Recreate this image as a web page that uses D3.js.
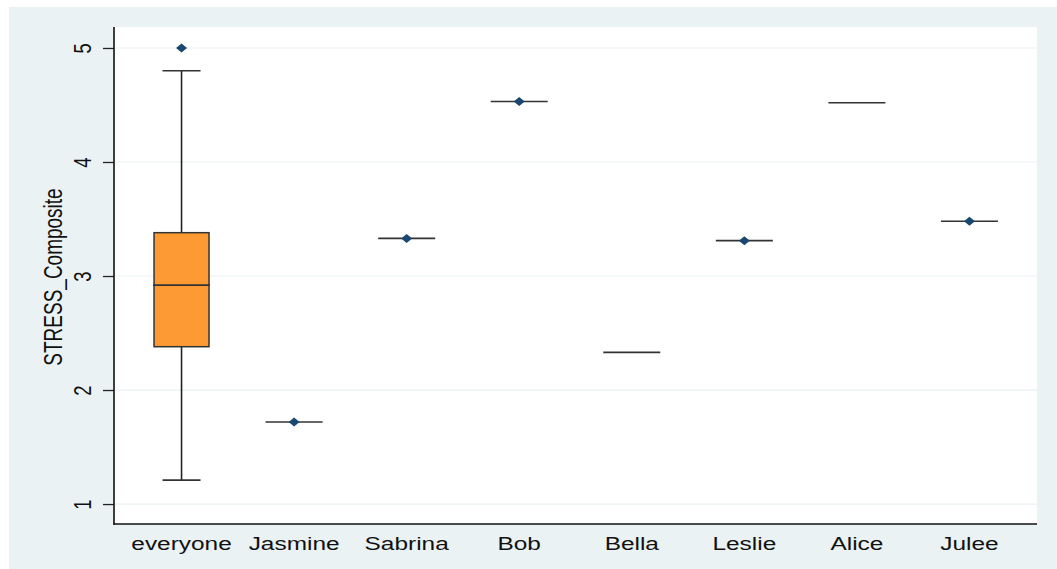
<!DOCTYPE html>
<html>
<head>
<meta charset="utf-8">
<script src="https://cdn.jsdelivr.net/npm/d3@7"></script>
<style>
  html, body { margin: 0; padding: 0; background: #ffffff; }
  svg { display: block; }
  text { font-family: "Liberation Sans", Arial, sans-serif; fill: #111; }
</style>
</head>
<body>
<svg id="chart" width="1057" height="569"></svg>
<script>
// ---- data ----
const categories = ["everyone", "Jasmine", "Sabrina", "Bob", "Bella", "Leslie", "Alice", "Julee"];
const lowerWhisker = [1.21, 1.72, 3.33, 4.53, 2.33, 3.31, 4.52, 3.48];
const q1           = [2.38, 1.72, 3.33, 4.53, 2.33, 3.31, 4.52, 3.48];
const median       = [2.92, 1.72, 3.33, 4.53, 2.33, 3.31, 4.52, 3.48];
const q3           = [3.38, 1.72, 3.33, 4.53, 2.33, 3.31, 4.52, 3.48];
const upperWhisker = [4.80, 1.72, 3.33, 4.53, 2.33, 3.31, 4.52, 3.48];
const outlierCats  = ["everyone", "Jasmine", "Sabrina", "Bob", "Leslie", "Julee"];
const outlierVals  = [5.00, 1.72, 3.33, 4.53, 3.31, 3.48];
const yTicks = [1, 2, 3, 4, 5];
const yTitle = "STRESS_Composite";

// ---- layout ----
const W = 1057, H = 569;
const plot = { left: 114, right: 1037, top: 27, bottom: 524 };
const sx = 1.32; // horizontal stretch of text in reference

const svg = d3.select("#chart");

// outer region
svg.append("rect").attr("x", 9).attr("y", 7).attr("width", W - 9).attr("height", H - 7)
  .attr("fill", "#eaf2f3");
// plot region
svg.append("rect").attr("x", plot.left).attr("y", plot.top)
  .attr("width", plot.right - plot.left).attr("height", plot.bottom - plot.top)
  .attr("fill", "#ffffff");

const x = d3.scalePoint().domain(categories).range([plot.left, plot.right]).padding(0.6);
const y = d3.scaleLinear().domain([0.825, 5.184]).range([plot.bottom, plot.top]);

// gridlines
svg.append("g").selectAll("line").data(yTicks).join("line")
  .attr("x1", plot.left).attr("x2", plot.right)
  .attr("y1", d => y(d)).attr("y2", d => y(d))
  .attr("stroke", "#eaf2f3").attr("stroke-width", 1.2);

// y axis
const yAxis = svg.append("g").attr("transform", `translate(${plot.left},0)`)
  .call(d3.axisLeft(y).tickValues(yTicks).tickSize(11).tickFormat(d3.format("d")));
yAxis.select(".domain").remove();
yAxis.selectAll(".tick line").attr("stroke", "#222").attr("stroke-width", 1.3);
yAxis.selectAll(".tick text").remove();
yAxis.selectAll(".tick").append("text")
  .attr("transform", `translate(${91 - plot.left},0) scale(${sx},1) rotate(-90)`)
  .attr("text-anchor", "middle")
  .attr("font-size", 18.5)
  .attr("fill", "#111")
  .text(d => d3.format("d")(d));

// y title
svg.append("text")
  .attr("transform", `translate(61.5,277) scale(${sx},1) rotate(-90)`)
  .attr("text-anchor", "middle")
  .attr("font-size", 19)
  .text(yTitle);

// axis lines
svg.append("line").attr("x1", plot.left).attr("x2", plot.left)
  .attr("y1", plot.top).attr("y2", plot.bottom + 0.75)
  .attr("stroke", "#111").attr("stroke-width", 1.6);
svg.append("line").attr("x1", plot.left - 0.75).attr("x2", plot.right)
  .attr("y1", plot.bottom).attr("y2", plot.bottom)
  .attr("stroke", "#111").attr("stroke-width", 1.6);

// x labels
svg.append("g").selectAll("text").data(categories).join("text")
  .attr("transform", d => `translate(${x(d)},549.5) scale(${sx},1)`)
  .attr("text-anchor", "middle")
  .attr("font-size", 18.5)
  .text(d => d);

// boxes
const boxW = 55, capW = 38;
const rows = categories.map((c, i) => ({
  c, lw: lowerWhisker[i], q1: q1[i], med: median[i], q3: q3[i], uw: upperWhisker[i]
}));
const g = svg.append("g");
rows.forEach(r => {
  const cx = x(r.c);
  const hasBox = r.q3 > r.q1;
  if (r.uw > r.q3) {
    g.append("line").attr("x1", cx).attr("x2", cx).attr("y1", y(r.q3)).attr("y2", y(r.uw))
      .attr("stroke", "#222").attr("stroke-width", 1.6);
    g.append("line").attr("x1", cx - capW / 2).attr("x2", cx + capW / 2)
      .attr("y1", y(r.uw)).attr("y2", y(r.uw)).attr("stroke", "#333").attr("stroke-width", 1.6);
  }
  if (r.lw < r.q1) {
    g.append("line").attr("x1", cx).attr("x2", cx).attr("y1", y(r.q1)).attr("y2", y(r.lw))
      .attr("stroke", "#222").attr("stroke-width", 1.6);
    g.append("line").attr("x1", cx - capW / 2).attr("x2", cx + capW / 2)
      .attr("y1", y(r.lw)).attr("y2", y(r.lw)).attr("stroke", "#333").attr("stroke-width", 1.6);
  }
  if (hasBox) {
    g.append("rect").attr("x", cx - boxW / 2).attr("y", y(r.q3))
      .attr("width", boxW).attr("height", y(r.q1) - y(r.q3))
      .attr("fill", "#fd9a34").attr("stroke", "#333").attr("stroke-width", 1.5);
  }
  g.append("line").attr("x1", cx - boxW / 2 - 1).attr("x2", cx + boxW / 2 + 1)
    .attr("y1", y(r.med)).attr("y2", y(r.med))
    .attr("stroke", "#333").attr("stroke-width", 1.6);
});

// outlier markers (diamonds)
svg.append("g").selectAll("path").data(outlierCats.map((c, i) => ({ c, v: outlierVals[i] }))).join("path")
  .attr("transform", d => `translate(${x(d.c)},${y(d.v)})`)
  .attr("d", "M-5.5,0 L0,-4.5 L5.5,0 L0,4.5 Z")
  .attr("fill", "#1a476f");
</script>
</body>
</html>
